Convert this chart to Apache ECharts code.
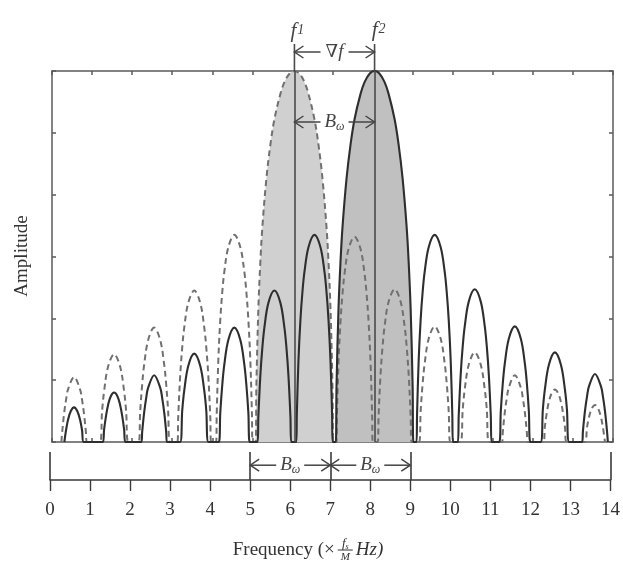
<!DOCTYPE html>
<html>
<head>
<meta charset="utf-8">
<script src="https://cdn.jsdelivr.net/npm/echarts@6/dist/echarts.min.js"></script>
<style>
  html, body { margin: 0; padding: 0; background: #ffffff; }
  #chart { width: 623px; height: 567px; }
</style>
</head>
<body>
<div id="chart"></div>
<script>
// Frequency axis ticks (units of fs/M) and amplitude grid ticks
const freqTicks = [0, 1, 2, 3, 4, 5, 6, 7, 8, 9, 10, 11, 12, 13, 14];
const ampTicks = [0, 1, 2, 3, 4, 5, 6];

// Carrier positions and the band edges marked under the axis
const f1 = 6.05;
const f2 = 8.05;
const bandEdges = [5, 7, 9];
const axisEnds = [0, 14];

// Spectrum of the second carrier (solid), [frequency, amplitude]
const solidLeft = [
  [0.308, 0], [0.35, 0.19], [0.40, 0.36], [0.47, 0.50], [0.55, 0.56], [0.63, 0.50], [0.70, 0.36], [0.75, 0.19], [0.792, 0],
  [1.268, 0], [1.30, 0.2], [1.35, 0.43], [1.40, 0.6], [1.47, 0.745], [1.55, 0.8], [1.63, 0.745], [1.70, 0.6], [1.75, 0.43], [1.80, 0.2], [1.832, 0],
  [2.23, 0], [2.25, 0.16], [2.30, 0.48], [2.35, 0.71], [2.40, 0.88], [2.55, 1.08], [2.70, 0.88], [2.75, 0.71], [2.80, 0.48], [2.85, 0.16], [2.87, 0],
  [3.195, 0], [3.25, 0.51], [3.30, 0.83], [3.40, 1.23], [3.55, 1.43], [3.70, 1.23], [3.80, 0.83], [3.85, 0.51], [3.905, 0],
  [4.162, 0], [4.20, 0.48], [4.25, 0.93], [4.30, 1.25], [4.40, 1.65], [4.55, 1.85], [4.70, 1.65], [4.80, 1.25], [4.85, 0.93], [4.90, 0.48], [4.938, 0],
  [5.129, 0], [5.15, 0.41], [5.20, 1.08], [5.25, 1.53], [5.30, 1.85], [5.40, 2.25], [5.55, 2.45], [5.70, 2.25], [5.80, 1.85], [5.85, 1.53], [5.90, 1.08], [5.95, 0.41], [5.971, 0],
  [6.096, 0], [6.11, 0.44], [6.15, 1.31], [6.20, 1.98], [6.25, 2.43], [6.30, 2.75], [6.40, 3.15], [6.55, 3.35], [6.70, 3.15], [6.80, 2.75], [6.85, 2.43], [6.90, 1.98], [6.95, 1.31], [6.99, 0.44], [7.004, 0]
];
const solidMain = [
  [7.081, 0], [7.10, 0.9], [7.15, 2.16], [7.20, 2.92], [7.25, 3.48], [7.35, 4.26], [7.45, 4.81], [7.55, 5.22], [7.70, 5.63], [7.80, 5.82], [7.93, 5.96],
  [8.05, 6],
  [8.17, 5.96], [8.30, 5.82], [8.40, 5.63], [8.55, 5.22], [8.65, 4.81], [8.75, 4.26], [8.85, 3.48], [8.90, 2.92], [8.95, 2.16], [9.00, 0.9], [9.019, 0]
];
const solidRight = [
  [9.096, 0], [9.11, 0.44], [9.15, 1.31], [9.20, 1.98], [9.25, 2.43], [9.30, 2.75], [9.40, 3.15], [9.55, 3.35], [9.70, 3.15], [9.80, 2.75], [9.85, 2.43], [9.90, 1.98], [9.95, 1.31], [9.99, 0.44], [10.004, 0],
  [10.128, 0], [10.15, 0.43], [10.20, 1.10], [10.25, 1.55], [10.30, 1.87], [10.40, 2.27], [10.55, 2.47], [10.70, 2.27], [10.80, 1.87], [10.85, 1.55], [10.90, 1.10], [10.95, 0.43], [10.972, 0],
  [11.161, 0], [11.20, 0.50], [11.25, 0.95], [11.30, 1.27], [11.40, 1.67], [11.55, 1.87], [11.70, 1.67], [11.80, 1.27], [11.85, 0.95], [11.90, 0.50], [11.939, 0],
  [12.193, 0], [12.25, 0.53], [12.30, 0.85], [12.40, 1.25], [12.55, 1.45], [12.70, 1.25], [12.80, 0.85], [12.85, 0.53], [12.907, 0],
  [13.228, 0], [13.25, 0.18], [13.30, 0.50], [13.35, 0.73], [13.40, 0.90], [13.55, 1.10], [13.70, 0.90], [13.75, 0.73], [13.80, 0.50], [13.85, 0.18], [13.872, 0]
];

// Spectrum of the first carrier (dashed), [frequency, amplitude]
const dashedLeft = [
  [0.234, 0], [0.25, 0.13], [0.30, 0.45], [0.35, 0.68], [0.40, 0.85], [0.55, 1.05], [0.70, 0.85], [0.75, 0.68], [0.80, 0.45], [0.85, 0.13], [0.866, 0],
  [1.196, 0], [1.25, 0.50], [1.30, 0.82], [1.40, 1.22], [1.55, 1.42], [1.70, 1.22], [1.80, 0.82], [1.85, 0.50], [1.904, 0],
  [2.162, 0], [2.20, 0.48], [2.25, 0.93], [2.30, 1.25], [2.40, 1.65], [2.55, 1.85], [2.70, 1.65], [2.80, 1.25], [2.85, 0.93], [2.90, 0.48], [2.938, 0],
  [3.129, 0], [3.15, 0.41], [3.20, 1.08], [3.25, 1.53], [3.30, 1.85], [3.40, 2.25], [3.55, 2.45], [3.70, 2.25], [3.80, 1.85], [3.85, 1.53], [3.90, 1.08], [3.95, 0.41], [3.971, 0],
  [4.096, 0], [4.11, 0.44], [4.15, 1.31], [4.20, 1.98], [4.25, 2.43], [4.30, 2.75], [4.40, 3.15], [4.55, 3.35], [4.70, 3.15], [4.80, 2.75], [4.85, 2.43], [4.90, 1.98], [4.95, 1.31], [4.99, 0.44], [5.004, 0]
];
const dashedMain = [
  [5.081, 0], [5.10, 0.9], [5.15, 2.16], [5.20, 2.92], [5.25, 3.48], [5.35, 4.26], [5.45, 4.81], [5.55, 5.22], [5.70, 5.63], [5.80, 5.82], [5.93, 5.96],
  [6.05, 6],
  [6.17, 5.96], [6.30, 5.82], [6.40, 5.63], [6.55, 5.22], [6.65, 4.81], [6.75, 4.26], [6.85, 3.48], [6.90, 2.92], [6.95, 2.16], [7.00, 0.9], [7.019, 0]
];
const dashedRight = [
  [7.097, 0], [7.11, 0.41], [7.15, 1.28], [7.20, 1.95], [7.25, 2.40], [7.30, 2.72], [7.40, 3.12], [7.55, 3.32], [7.70, 3.12], [7.80, 2.72], [7.85, 2.40], [7.90, 1.95], [7.95, 1.28], [7.99, 0.41], [8.003, 0],
  [8.128, 0], [8.15, 0.43], [8.20, 1.10], [8.25, 1.55], [8.30, 1.87], [8.40, 2.27], [8.55, 2.47], [8.70, 2.27], [8.80, 1.87], [8.85, 1.55], [8.90, 1.10], [8.95, 0.43], [8.972, 0],
  [9.161, 0], [9.20, 0.50], [9.25, 0.95], [9.30, 1.27], [9.40, 1.67], [9.55, 1.87], [9.70, 1.67], [9.80, 1.27], [9.85, 0.95], [9.90, 0.50], [9.939, 0],
  [10.193, 0], [10.25, 0.53], [10.30, 0.85], [10.40, 1.25], [10.55, 1.45], [10.70, 1.25], [10.80, 0.85], [10.85, 0.53], [10.907, 0],
  [11.23, 0], [11.25, 0.16], [11.30, 0.48], [11.35, 0.71], [11.40, 0.88], [11.55, 1.08], [11.70, 0.88], [11.75, 0.71], [11.80, 0.48], [11.85, 0.16], [11.87, 0],
  [12.26, 0], [12.30, 0.25], [12.35, 0.48], [12.40, 0.65], [12.47, 0.79], [12.55, 0.85], [12.63, 0.79], [12.70, 0.65], [12.75, 0.48], [12.80, 0.25], [12.84, 0],
  [13.30, 0], [13.35, 0.23], [13.40, 0.40], [13.47, 0.54], [13.55, 0.60], [13.63, 0.54], [13.70, 0.40], [13.75, 0.23], [13.80, 0]
];

const SERIF = '"Liberation Serif", "DejaVu Serif", "Times New Roman", serif';
const INK = '#3a3a3a';
const FRAME = '#5a5a5a';

const chart = echarts.init(document.getElementById('chart'), null, { renderer: 'canvas' });

const frameAxis = (pos) => ({
  axisLine: { show: true, onZero: false, lineStyle: { color: FRAME, width: 1.5 } },
  axisTick: { show: true, inside: true, length: 4, lineStyle: { color: FRAME, width: 1.5 } },
  axisLabel: { show: false },
  splitLine: { show: false },
  position: pos
});

chart.setOption({
  animation: false,
  backgroundColor: '#ffffff',
  grid: [
    { left: 52, top: 71, width: 561, height: 371, containLabel: false },
    { left: 50, top: 452, width: 561, height: 28, containLabel: false }
  ],
  xAxis: [
    Object.assign({ type: 'value', gridIndex: 0, min: freqTicks[0], max: freqTicks[freqTicks.length - 1], interval: 1 }, frameAxis('bottom')),
    Object.assign({ type: 'value', gridIndex: 0, min: freqTicks[0], max: freqTicks[freqTicks.length - 1], interval: 1 }, frameAxis('top')),
    {
      type: 'value', gridIndex: 1, position: 'bottom',
      min: freqTicks[0], max: freqTicks[freqTicks.length - 1], interval: 1,
      axisLine: { show: true, onZero: false, lineStyle: { color: INK, width: 1.6 } },
      axisTick: { show: true, inside: false, length: 11, lineStyle: { color: INK, width: 1.4 } },
      axisLabel: { show: true, margin: 21, color: '#333', fontFamily: SERIF, fontSize: 19 },
      splitLine: { show: false }
    }
  ],
  yAxis: [
    Object.assign({ type: 'value', gridIndex: 0, min: ampTicks[0], max: ampTicks[ampTicks.length - 1], interval: 1 }, frameAxis('left')),
    Object.assign({ type: 'value', gridIndex: 0, min: ampTicks[0], max: ampTicks[ampTicks.length - 1], interval: 1 }, frameAxis('right')),
    {
      type: 'value', gridIndex: 1, min: 0, max: 1, show: false
    }
  ],
  series: [
    {
      name: 'band1', type: 'line', xAxisIndex: 0, yAxisIndex: 0,
      data: dashedMain, smooth: 0.35, showSymbol: false, silent: true, z: 1,
      lineStyle: { width: 0, opacity: 0 },
      areaStyle: { color: '#d0d0d0', opacity: 1 }
    },
    {
      name: 'band2', type: 'line', xAxisIndex: 0, yAxisIndex: 0,
      data: solidMain, smooth: 0.35, showSymbol: false, silent: true, z: 1,
      lineStyle: { width: 0, opacity: 0 },
      areaStyle: { color: '#c0c0c0', opacity: 1 }
    },
    {
      name: 'carriers', type: 'line', xAxisIndex: 0, yAxisIndex: 0,
      data: [], showSymbol: false, silent: true, z: 2,
      markLine: {
        silent: true, symbol: 'none', animation: false,
        label: { show: false },
        lineStyle: { color: '#4a4a4a', width: 1.6, type: 'solid' },
        data: [{ xAxis: f1 }, { xAxis: f2 }]
      }
    },
    {
      name: 'dashed', type: 'line', xAxisIndex: 0, yAxisIndex: 0,
      data: dashedLeft.concat(dashedMain, dashedRight),
      smooth: 0.35, showSymbol: false, silent: true, z: 3,
      lineStyle: { color: '#707070', width: 2, type: [6, 4] }
    },
    {
      name: 'solid', type: 'line', xAxisIndex: 0, yAxisIndex: 0,
      data: solidLeft.concat(solidMain, solidRight),
      smooth: 0.35, showSymbol: false, silent: true, z: 4,
      lineStyle: { color: '#2e2e2e', width: 2.1 }
    },
    {
      name: 'brackets', type: 'line', xAxisIndex: 2, yAxisIndex: 2,
      data: [], showSymbol: false, silent: true,
      markLine: {
        silent: true, symbol: 'none', animation: false,
        label: { show: false },
        lineStyle: { color: INK, width: 1.6, type: 'solid' },
        data: axisEnds.concat(bandEdges).map(v => ({ xAxis: v }))
      }
    }
  ]
});

// ---- annotations: arrows, symbols and axis titles ----
const px = (v, grid) => chart.convertToPixel({ gridIndex: grid }, v);
const measure = (() => {
  const ctx = document.createElement('canvas').getContext('2d');
  return (text, font) => { ctx.font = font; return ctx.measureText(text).width; };
})();

function chevron(xTip, y, dir, color) {
  // open arrow head; dir = -1 points left, +1 points right
  return {
    type: 'polyline', silent: true, z: 20,
    shape: { points: [[xTip - dir * 9, y - 6], [xTip, y], [xTip - dir * 9, y + 6]] },
    style: { stroke: color, lineWidth: 1.5, fill: null }
  };
}
function hline(x1, x2, y, color) {
  return { type: 'line', silent: true, z: 20, shape: { x1, y1: y, x2, y2: y }, style: { stroke: color, lineWidth: 1.5 } };
}
function vline(x, y1, y2, color, w) {
  return { type: 'line', silent: true, z: 20, shape: { x1: x, y1, x2: x, y2 }, style: { stroke: color, lineWidth: w || 1.6 } };
}

// double arrow between xa and xb with a label in the middle
function spanArrow(xa, xb, y, richText, rich, halfWidth, color) {
  const mid = (xa + xb) / 2;
  return [
    chevron(xa, y, -1, color),
    hline(xa, mid - halfWidth - 1, y, color),
    chevron(xb, y, 1, color),
    hline(mid + halfWidth + 1, xb, y, color),
    {
      type: 'text', silent: true, z: 21,
      x: mid, y: y,
      style: { text: richText, rich, align: 'center', verticalAlign: 'middle', fill: color }
    }
  ];
}

const bRich = {
  b: { fontFamily: SERIF, fontStyle: 'italic', fontSize: 19, fill: '#444', verticalAlign: 'middle' },
  w: { fontFamily: SERIF, fontStyle: 'italic', fontSize: 12, fill: '#444', padding: [9, 0, 0, 0] }
};

function drawAnnotations() {
  const boxTop = px([0, 6], 0)[1];
  const x1 = px([f1, 0], 0)[0];
  const x2 = px([f2, 0], 0)[0];
  const els = [];

  // carrier markers above the frame
  els.push(vline(x1, 44, boxTop, '#4a4a4a'));
  els.push(vline(x2, 44, boxTop, '#4a4a4a'));
  const fRich = {
    f: { fontFamily: SERIF, fontStyle: 'italic', fontSize: 21, fill: '#444' },
    s: { fontFamily: SERIF, fontStyle: 'italic', fontSize: 14, fill: '#444', padding: [0, 0, 2, 1] }
  };
  els.push({ type: 'text', silent: true, z: 21, x: x1 + 3, y: 31, style: { text: '{f|f}{s|1}', rich: fRich, align: 'center', verticalAlign: 'middle' } });
  els.push({ type: 'text', silent: true, z: 21, x: x2 + 4, y: 30, style: { text: '{f|f}{s|2}', rich: fRich, align: 'center', verticalAlign: 'middle' } });

  // carrier spacing
  els.push(...spanArrow(x1, x2, 52, '{n|\u2207}{f|f}', {
    n: { fontFamily: SERIF, fontSize: 18, fill: '#444' },
    f: { fontFamily: SERIF, fontStyle: 'italic', fontSize: 19, fill: '#444' }
  }, 13, '#444'));

  // bandwidth between the two carriers inside the frame
  els.push(...spanArrow(x1, x2, 122, '{b|B}{w|\u03c9}', bRich, 13, '#444'));

  // bandwidth brackets under the frame
  const yb = px([0, 0.6], 1)[1] + 2;
  for (let i = 0; i < bandEdges.length - 1; i++) {
    const xa = px([bandEdges[i], 0], 1)[0];
    const xb = px([bandEdges[i + 1], 0], 1)[0];
    els.push(...spanArrow(xa, xb, yb, '{b|B}{w|\u03c9}', bRich, 13, '#444'));
  }

  // vertical title
  els.push({
    type: 'text', silent: true, z: 21, x: 22, y: 256, rotation: Math.PI / 2,
    style: { text: 'Amplitude', fontFamily: SERIF, fontSize: 19, fill: '#333', align: 'center', verticalAlign: 'middle' }
  });

  // horizontal title: Frequency (× fs/M Hz)
  const mainFont = '19px ' + SERIF;
  const part1 = 'Frequency (\u00d7';
  const w1 = measure(part1, mainFont);
  const fracW = 15;
  const w3 = measure('Hz)', 'italic 19px ' + SERIF);
  const total = w1 + 3 + fracW + 3 + w3;
  const startX = 308 - total / 2;
  const baseY = 550;
  els.push({ type: 'text', silent: true, z: 21, x: startX, y: baseY,
    style: { text: part1, fontFamily: SERIF, fontSize: 19, fill: '#333', align: 'left', verticalAlign: 'middle' } });
  const fx = startX + w1 + 3;
  els.push({ type: 'text', silent: true, z: 21, x: fx + fracW / 2, y: baseY - 6,
    style: { text: '{f|f}{s|s}', rich: {
      f: { fontFamily: SERIF, fontStyle: 'italic', fontSize: 13, fill: '#333' },
      s: { fontFamily: SERIF, fontStyle: 'italic', fontSize: 8, fill: '#333', padding: [5, 0, 0, 0] }
    }, align: 'center', verticalAlign: 'middle' } });
  els.push({ type: 'line', silent: true, z: 21, shape: { x1: fx, y1: baseY, x2: fx + fracW, y2: baseY }, style: { stroke: '#333', lineWidth: 1 } });
  els.push({ type: 'text', silent: true, z: 21, x: fx + fracW / 2, y: baseY + 7,
    style: { text: 'M', fontFamily: SERIF, fontStyle: 'italic', fontSize: 11, fill: '#333', align: 'center', verticalAlign: 'middle' } });
  els.push({ type: 'text', silent: true, z: 21, x: fx + fracW + 3, y: baseY,
    style: { text: 'Hz)', fontFamily: SERIF, fontStyle: 'italic', fontSize: 19, fill: '#333', align: 'left', verticalAlign: 'middle' } });

  chart.setOption({ graphic: { elements: els } });
}
drawAnnotations();
</script>
</body>
</html>
